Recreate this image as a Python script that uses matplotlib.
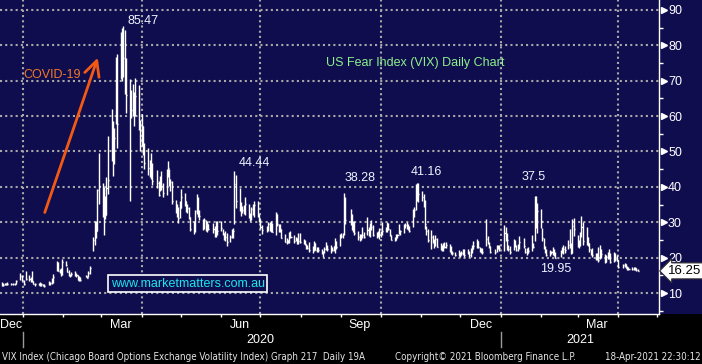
import matplotlib
matplotlib.use("Agg")
import matplotlib.pyplot as plt
import matplotlib.dates as mdates
import matplotlib.transforms as mtransforms
from matplotlib.patches import Rectangle
from matplotlib.lines import Line2D
import pandas as pd

# US market holidays inside the window (no VIX print on these days)
holidays = ["2019-12-25", "2020-01-01", "2020-01-20", "2020-02-17", "2020-04-10",
            "2020-05-25", "2020-07-03", "2020-09-07", "2020-11-26", "2020-12-25",
            "2021-01-01", "2021-01-18", "2021-02-15", "2021-04-02"]

# daily VIX, one row per month (Dec-2019 from the 13th .. Apr-2021 to the 16th)
vix_close = [
    12.63, 12.14, 12.29, 12.58, 12.50, 12.51, 12.61, 12.67, 12.65, 13.43, 14.82, 13.78,
    12.47, 14.02, 13.85, 13.79, 13.45, 12.54, 12.56, 12.32, 12.39, 12.42, 12.32, 12.10, 12.85, 12.91, 12.98, 14.56, 18.23, 16.28, 16.39, 15.49, 18.84,
    17.97, 16.05, 15.15, 14.96, 15.47, 15.04, 15.18, 13.74, 14.15, 13.68, 14.83, 14.38, 15.56, 17.08, 25.03, 27.85, 27.56, 39.16, 40.11,
    33.42, 36.82, 31.99, 39.62, 41.94, 54.46, 47.30, 53.90, 75.47, 57.83, 82.69, 75.91, 76.45, 72.00, 66.04, 61.59, 61.67, 63.95, 61.00, 65.54, 57.08, 53.54,
    57.06, 50.91, 46.80, 45.24, 46.70, 43.35, 41.67, 41.17, 37.76, 40.84, 40.11, 38.15, 43.83, 45.41, 41.98, 41.38, 35.93, 33.29, 33.57, 31.23, 34.15,
    37.19, 35.97, 33.61, 34.12, 31.44, 27.98, 27.57, 33.04, 35.28, 32.61, 31.89, 29.30, 30.53, 27.99, 29.53, 28.16, 28.01, 27.62, 28.59, 27.51,
    28.23, 26.84, 25.66, 25.81, 24.52, 25.81, 27.57, 27.57, 40.79, 36.09, 34.40, 33.67, 33.47, 32.94, 35.12, 31.77, 31.37, 33.84, 32.22, 34.73, 31.78, 30.43,
    28.62, 27.68, 27.94, 29.43, 28.08, 29.26, 27.29, 32.19, 29.52, 27.76, 28.00, 25.68, 24.46, 24.84, 24.32, 26.08, 25.84, 24.74, 25.44, 24.10, 24.76, 24.46,
    24.28, 23.76, 22.99, 22.65, 22.21, 22.13, 24.03, 22.28, 22.59, 22.05, 21.35, 21.51, 22.54, 22.72, 22.54, 22.37, 22.03, 23.27, 24.47, 22.96, 26.41,
    26.12, 26.57, 33.60, 30.75, 31.46, 28.81, 29.71, 26.87, 25.85, 25.59, 26.04, 26.46, 25.83, 27.78, 26.86, 28.58, 28.51, 26.38, 26.19, 26.27, 26.37,
    26.70, 27.63, 27.96, 29.48, 28.06, 26.36, 25.00, 25.07, 26.07, 26.40, 26.97, 27.41, 29.18, 29.35, 28.65, 28.11, 27.55, 32.46, 33.35, 40.28, 37.59, 38.02,
    37.13, 35.55, 29.57, 27.58, 24.86, 25.75, 24.80, 23.45, 25.35, 23.10, 22.45, 22.71, 23.84, 23.11, 23.70, 22.66, 21.64, 21.25, 20.84, 20.57,
    20.77, 21.17, 22.25, 20.79, 21.30, 20.68, 22.27, 22.52, 23.31, 24.72, 22.89, 22.50, 21.93, 21.57, 25.16, 24.23, 23.31, 21.53, 21.70, 23.08, 22.77, 22.75,
    26.97, 25.34, 25.07, 22.37, 21.56, 24.08, 23.33, 22.21, 23.25, 24.34, 23.24, 21.58, 21.32, 21.91, 23.19, 23.02, 37.21, 30.21, 33.09,
    30.24, 25.56, 22.91, 21.77, 20.87, 21.24, 21.63, 21.99, 21.25, 19.97, 21.46, 21.50, 22.49, 22.05, 23.45, 23.11, 21.34, 28.89, 27.95,
    23.35, 24.10, 26.67, 28.57, 24.66, 25.47, 24.03, 22.56, 21.91, 20.69, 20.03, 19.79, 19.23, 21.58, 20.95, 18.88, 20.30, 21.20, 19.81, 18.86, 20.74, 19.61, 19.40,
    17.33, 17.91, 18.12, 17.16, 16.95, 16.69, 16.91, 16.65, 16.99, 16.57, 16.25,
]
vix_high = [
    14.90, 13.10, 12.90, 12.95, 12.90, 13.00, 12.90, 12.95, 12.85, 13.80, 15.60, 15.10,
    13.80, 16.20, 15.10, 14.60, 16.20, 13.40, 12.95, 12.80, 13.10, 12.90, 12.60, 12.45, 13.50, 13.10, 14.25, 15.40, 19.00, 18.70, 16.90, 17.20, 19.50,
    19.10, 17.30, 16.40, 15.40, 16.00, 16.30, 15.60, 15.20, 14.80, 14.40, 15.20, 14.90, 16.20, 17.70, 25.80, 30.30, 30.20, 39.30, 49.50,
    41.20, 39.90, 37.50, 42.80, 54.40, 62.10, 58.70, 56.50, 76.80, 77.60, 83.60, 84.80, 85.47, 84.30, 76.50, 70.40, 67.40, 69.00, 66.80, 70.80, 68.80, 59.00,
    60.60, 57.20, 52.30, 51.10, 47.50, 49.50, 46.70, 44.70, 41.70, 43.00, 44.40, 41.20, 45.10, 47.20, 45.10, 42.10, 41.60, 36.40, 35.10, 34.40, 36.00,
    39.40, 38.20, 36.10, 35.20, 34.20, 31.50, 30.40, 33.40, 38.00, 37.20, 33.40, 30.80, 31.30, 30.50, 30.20, 29.50, 29.70, 28.90, 30.30, 30.30,
    30.20, 28.10, 27.00, 27.60, 27.00, 26.30, 28.00, 28.50, 44.44, 43.20, 39.70, 35.80, 34.50, 34.90, 37.00, 35.10, 32.60, 34.40, 35.20, 36.10, 36.00, 32.30,
    31.00, 29.10, 28.90, 30.00, 30.00, 30.30, 29.90, 33.00, 32.30, 29.40, 29.40, 28.00, 26.70, 25.40, 25.00, 27.30, 27.60, 26.40, 25.80, 25.50, 26.90, 27.00,
    25.30, 24.90, 23.90, 23.50, 24.30, 23.40, 24.60, 24.00, 23.00, 22.90, 22.50, 22.00, 23.00, 24.50, 23.60, 23.70, 22.90, 23.30, 25.60, 24.80, 26.60,
    26.90, 27.00, 38.28, 37.20, 33.60, 32.20, 30.40, 30.20, 27.60, 26.60, 26.80, 28.70, 27.10, 31.40, 28.70, 29.90, 30.60, 29.30, 27.10, 27.50, 28.40,
    27.50, 30.10, 28.60, 30.00, 29.80, 28.10, 26.50, 25.80, 26.60, 26.80, 29.60, 27.80, 29.60, 29.80, 30.00, 29.40, 28.90, 33.60, 34.40, 40.80, 41.16, 41.10,
    38.80, 38.00, 36.30, 29.00, 28.00, 27.80, 26.40, 25.20, 26.30, 25.60, 24.20, 23.70, 24.20, 24.40, 24.30, 23.80, 23.20, 22.00, 21.50, 22.10,
    21.50, 21.90, 22.50, 22.40, 22.40, 21.80, 22.60, 23.70, 24.60, 25.20, 24.70, 23.00, 22.60, 22.60, 31.00, 26.00, 24.40, 23.30, 22.50, 23.60, 23.60, 23.70,
    29.20, 28.60, 27.00, 23.70, 23.30, 25.20, 25.00, 23.70, 23.90, 26.20, 25.50, 22.70, 22.60, 23.10, 26.50, 24.20, 37.51, 37.30, 35.40,
    33.80, 28.50, 25.50, 23.20, 22.30, 22.10, 22.00, 23.00, 22.30, 21.70, 22.20, 22.90, 23.50, 23.40, 25.10, 28.00, 24.20, 31.00, 31.20,
    26.50, 24.90, 27.20, 31.80, 30.00, 28.70, 25.70, 24.10, 22.50, 22.80, 21.30, 21.30, 22.90, 23.70, 22.40, 21.10, 20.80, 21.60, 22.30, 21.20, 21.50, 21.30, 20.80,
    19.40, 18.30, 18.40, 18.20, 17.50, 17.30, 17.40, 17.30, 17.40, 17.20, 16.90,
]
vix_low = [
    12.30, 12.10, 12.10, 12.20, 12.25, 12.20, 12.30, 12.40, 12.30, 12.55, 13.80, 13.50,
    12.40, 13.80, 13.50, 13.20, 13.00, 12.45, 12.10, 12.20, 12.10, 12.10, 12.10, 11.75, 12.30, 12.40, 12.60, 12.70, 16.20, 16.10, 15.60, 14.80, 15.20,
    17.50, 15.90, 14.80, 14.60, 14.90, 14.80, 14.50, 13.70, 13.40, 13.40, 14.40, 14.10, 14.40, 15.30, 22.00, 23.60, 25.60, 27.60, 35.20,
    31.50, 26.40, 30.90, 32.00, 38.00, 47.20, 43.10, 46.50, 57.80, 50.90, 70.40, 70.00, 71.10, 66.10, 60.80, 36.00, 59.50, 60.10, 57.20, 60.10, 56.10, 50.00,
    51.60, 48.90, 45.00, 43.30, 42.80, 42.20, 40.40, 39.60, 37.40, 38.90, 39.20, 37.20, 37.60, 42.80, 40.20, 38.90, 35.20, 32.60, 31.60, 29.90, 31.20,
    34.00, 34.50, 33.00, 32.60, 31.00, 27.50, 26.80, 27.30, 32.40, 31.60, 30.50, 27.90, 28.10, 27.50, 27.10, 27.80, 26.90, 25.80, 25.90, 26.30,
    27.40, 26.40, 25.10, 24.80, 23.30, 24.50, 25.40, 25.60, 29.50, 34.00, 33.20, 31.80, 32.50, 32.20, 31.90, 31.20, 30.40, 30.70, 31.90, 31.40, 31.50, 30.10,
    28.00, 26.60, 27.30, 27.60, 27.50, 27.30, 27.10, 26.30, 28.90, 27.10, 27.20, 25.50, 24.40, 23.90, 24.20, 24.00, 25.40, 24.20, 24.60, 23.90, 23.90, 24.00,
    23.80, 23.50, 22.50, 22.30, 21.70, 21.30, 22.00, 22.20, 21.60, 21.60, 21.10, 20.30, 21.30, 22.10, 22.00, 21.40, 21.80, 21.90, 21.40, 22.50, 23.20,
    25.60, 25.60, 26.40, 29.50, 29.10, 27.80, 27.20, 26.30, 25.10, 24.60, 25.00, 25.60, 25.50, 26.30, 26.10, 25.90, 27.80, 26.20, 25.60, 25.70, 25.20,
    25.80, 26.50, 27.30, 27.20, 27.80, 26.20, 24.90, 24.80, 25.00, 25.40, 26.60, 26.30, 26.90, 28.30, 28.20, 27.90, 27.30, 28.70, 31.60, 33.50, 36.10, 35.80,
    36.10, 34.20, 28.10, 26.40, 24.50, 22.40, 24.10, 22.80, 23.20, 23.00, 22.20, 22.00, 22.00, 22.70, 22.80, 21.70, 21.10, 20.80, 20.40, 20.50,
    20.30, 20.60, 20.70, 20.30, 20.90, 20.30, 20.30, 21.40, 22.50, 22.70, 22.60, 21.50, 21.20, 21.10, 23.40, 23.90, 22.70, 21.20, 20.90, 21.70, 22.40, 21.80,
    22.00, 24.80, 22.10, 21.90, 21.10, 22.20, 23.00, 22.00, 21.80, 22.40, 22.80, 21.30, 20.70, 21.20, 21.80, 22.60, 24.80, 28.50, 27.00,
    28.30, 24.80, 22.40, 21.30, 20.40, 20.50, 20.90, 20.80, 20.40, 19.95, 20.20, 21.40, 21.10, 21.20, 22.30, 22.70, 21.10, 21.20, 26.20,
    23.10, 22.60, 23.20, 25.70, 23.60, 23.50, 23.20, 21.50, 20.80, 20.10, 19.40, 19.20, 18.90, 19.60, 19.80, 18.50, 18.90, 19.50, 19.50, 18.60, 18.80, 19.10, 19.10,
    17.20, 17.20, 17.40, 17.00, 16.50, 16.40, 16.50, 16.40, 16.50, 16.20, 16.10,
]

# labelled highs / lows: (date, value text, label date, label level)
peak_labels = [("2020-03-18", "85.47", "2020-04-02", 86.8),
               ("2020-06-11", "44.44", "2020-06-26", 46.7),
               ("2020-09-03", "38.28", "2020-09-15", 42.5),
               ("2020-10-29", "41.16", "2020-11-05", 44.2),
               ("2021-01-27", "37.5", "2021-01-26", 42.8),
               ("2021-02-12", "19.95", "2021-02-12", 16.8)]
month_labels = [("2019-12-23", "Dec"), ("2020-03-16", "Mar"), ("2020-06-15", "Jun"),
                ("2020-09-15", "Sep"), ("2020-12-17", "Dec"), ("2021-03-16", "Mar")]
year_labels = [("2020-07-01", "2020"), ("2021-03-03", "2021")]
year_starts = ["2020-01-01", "2021-01-01"]
quarter_lines = ["2020-01-01", "2020-04-01", "2020-07-01", "2020-10-01", "2021-01-01", "2021-04-01"]
last_value = 16.25

navy = "#100d4e"
plt.rcParams['font.family'] = ['Liberation Sans', 'DejaVu Sans']

days = pd.bdate_range("2019-12-13", "2021-04-16")
days = days[~days.isin(pd.to_datetime(holidays))]
n = min(len(days), len(vix_close))
x = mdates.date2num(days[:n])

fig = plt.figure(figsize=(7.02, 3.64), dpi=100, facecolor="black")
fig.add_artist(Rectangle((0, 50 / 364), 1, 314 / 364, transform=fig.transFigure,
                         facecolor=navy, edgecolor="none", zorder=0))
ax = fig.add_axes([0, 50 / 364, 659 / 702, 314 / 364], facecolor=navy)

t0 = mdates.date2num(pd.Timestamp("2020-01-01"))
ax.set_xlim(t0 - 17.6, t0 + 487.4)
ax.set_ylim(4.07, 92.77)

# grid
grid_kw = dict(color="#a8a8a8", lw=1.5, ls=(0, (1, 1.5)), zorder=1)
for v in range(10, 100, 10):
    ax.axhline(v, **grid_kw)
for d in quarter_lines:
    ax.axvline(mdates.date2num(pd.Timestamp(d)), **grid_kw)

# OHLC-style bars
ax.vlines(x, vix_low[:n], vix_high[:n], color="white", lw=1.0, zorder=3)
ax.hlines(vix_close[:n], x, x + 0.8, color="white", lw=1.0, zorder=3)

# spines / axes
for s in ["left", "top"]:
    ax.spines[s].set_visible(False)
for s in ["right", "bottom"]:
    ax.spines[s].set_color("white")
    ax.spines[s].set_linewidth(1.0)

ax.yaxis.tick_right()
ax.set_yticks(range(10, 100, 10))
ax.set_yticks(range(5, 90, 10), minor=True)
ax.tick_params(axis="y", which="major", length=0, pad=6.5, labelcolor="white", labelsize=9)
ax.tick_params(axis="y", which="minor", length=2.6, width=1, color="white", direction="out")
ytrans = mtransforms.blended_transform_factory(ax.transAxes, ax.transData)
ax.plot([1.0075] * 9, list(range(10, 100, 10)), ls="none", marker=">", ms=4.5,
        color="white", transform=ytrans, clip_on=False, zorder=5)

ax.xaxis.set_major_locator(mdates.MonthLocator())
ax.xaxis.set_major_formatter(plt.NullFormatter())
ax.tick_params(axis="x", which="major", length=2.4, width=1, color="white", direction="out")

xtrans = mtransforms.blended_transform_factory(ax.transData, ax.transAxes)
for d, lab in month_labels:
    ax.text(mdates.date2num(pd.Timestamp(d)), -0.035, lab, transform=xtrans, ha="center",
            va="center", color="white", fontsize=9, clip_on=False)
for d, lab in year_labels:
    ax.text(mdates.date2num(pd.Timestamp(d)), -0.083, lab, transform=xtrans, ha="center",
            va="center", color="white", fontsize=9, clip_on=False)
for d in year_starts:
    xd = mdates.date2num(pd.Timestamp(d))
    ax.add_line(Line2D([xd, xd], [-0.057, -0.105], transform=xtrans, color="#9a9a9a",
                       lw=1, clip_on=False))

# annotations
for d, txt, ld, lv in peak_labels:
    ax.text(mdates.date2num(pd.Timestamp(ld)), lv, txt, ha="center", va="center",
            color="#eef4ff", fontsize=9, zorder=6)

ax.text(0.63, 0.80, "US Fear Index (VIX) Daily Chart", transform=ax.transAxes,
        ha="center", va="center", color="#8cf08c", fontsize=9)
ax.text(0.079, 0.761, "COVID-19", transform=ax.transAxes, ha="center", va="center",
        color="#f0782a", fontsize=9)
ax.annotate("", xy=(mdates.date2num(pd.Timestamp("2020-02-28")), 77.2),
            xytext=(mdates.date2num(pd.Timestamp("2020-01-17")), 32.0),
            arrowprops=dict(arrowstyle="->,head_length=0.9,head_width=0.45",
                            color="#f25a14", lw=2, mutation_scale=12), zorder=6)
ax.text(0.285, 0.097, "www.marketmatters.com.au", transform=ax.transAxes, ha="center",
        va="center", color="#19e6f0", fontsize=9, zorder=6,
        bbox=dict(boxstyle="square,pad=0.2", facecolor=navy, edgecolor="white", lw=1.2))

ax.text(1.014, last_value, f"{last_value:.2f}", transform=ytrans, ha="left", va="center",
        color="black", fontsize=9.5, clip_on=False, zorder=7,
        bbox=dict(boxstyle="larrow,pad=0.15", facecolor="white", edgecolor="#333333", lw=0.8))

# footer
foot = dict(color="#e6e6e6", fontsize=7, va="center", family="DejaVu Sans",
            stretch="condensed")
fig.text(0.003, 0.019, "VIX Index (Chicago Board Options Exchange Volatility Index) Graph 217  Daily 19A",
         ha="left", **foot)
fig.text(0.563, 0.019, "Copyright\u00a9 2021 Bloomberg Finance L.P.", ha="left", **foot)
fig.text(0.9986, 0.019, "18-Apr-2021 22:30:12", ha="right", **foot)

fig.savefig("out.png", dpi=100, facecolor="black")
